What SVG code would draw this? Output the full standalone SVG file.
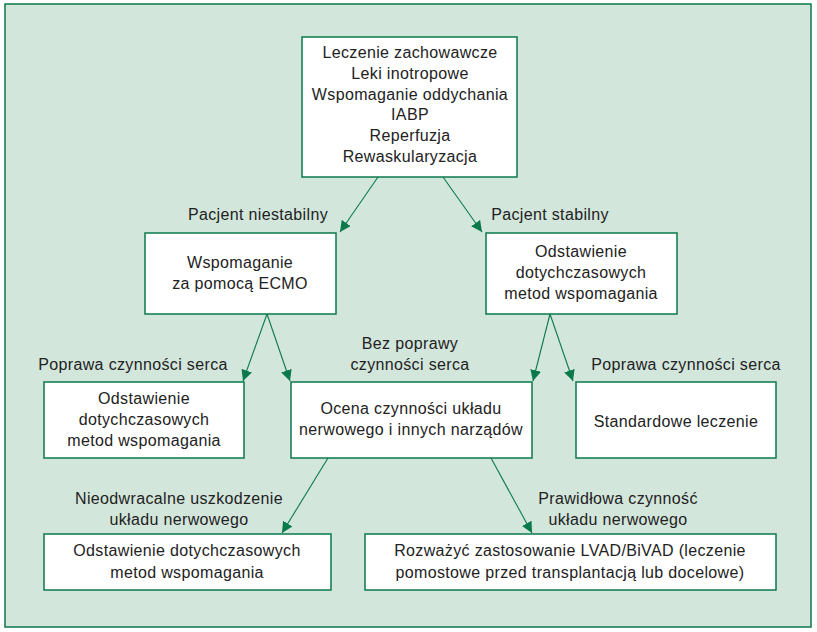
<svg xmlns="http://www.w3.org/2000/svg" width="817" height="632" viewBox="0 0 817 632">
<defs>
<marker id="ah" viewBox="0 0 10 10" refX="10" refY="5" markerWidth="11" markerHeight="11" markerUnits="userSpaceOnUse" orient="auto">
<path d="M0,0 L10,5 L0,10 Z" fill="#0b7a4b"/>
</marker>
</defs>
<style>
.frame{fill:#d3e6dc;stroke:#0b7a4b;stroke-width:1.5}
.box{fill:#ffffff;stroke:#0b7a4b;stroke-width:1.5}
text{font-family:"Liberation Sans",Arial,sans-serif;font-size:16px;letter-spacing:0.35px;fill:#222;text-anchor:middle}
.conn line{stroke:#0b7a4b;stroke-width:1.1;marker-end:url(#ah)}
</style>
<rect class="frame" x="5" y="4" width="806" height="623"/>
<g id="n-top">
<rect class="box" x="302" y="37" width="215" height="140"/>
<text x="410" y="58">Leczenie zachowawcze</text>
<text x="410" y="79">Leki inotropowe</text>
<text x="410" y="100">Wspomaganie oddychania</text>
<text x="410" y="120">IABP</text>
<text x="410" y="141">Reperfuzja</text>
<text x="410" y="162">Rewaskularyzacja</text>
</g>
<g id="n-ecmo">
<rect class="box" x="145" y="233" width="191" height="81"/>
<text x="240" y="268">Wspomaganie</text>
<text x="240" y="289">za pomocą ECMO</text>
</g>
<g id="n-odst1">
<rect class="box" x="486" y="233" width="191" height="81"/>
<text x="581" y="257">Odstawienie</text>
<text x="581" y="278">dotychczasowych</text>
<text x="581" y="299">metod wspomagania</text>
</g>
<g id="n-odst2">
<rect class="box" x="44" y="382" width="200" height="76"/>
<text x="144" y="404">Odstawienie</text>
<text x="144" y="425">dotychczasowych</text>
<text x="144" y="446">metod wspomagania</text>
</g>
<g id="n-ocena">
<rect class="box" x="291" y="382" width="241" height="76"/>
<text x="411" y="414">Ocena czynności układu</text>
<text x="411" y="435">nerwowego i innych narządów</text>
</g>
<g id="n-std">
<rect class="box" x="576" y="382" width="200" height="76"/>
<text x="676" y="427">Standardowe leczenie</text>
</g>
<g id="n-odst3">
<rect class="box" x="44" y="534" width="287" height="56"/>
<text x="187" y="556">Odstawienie dotychczasowych</text>
<text x="187" y="578">metod wspomagania</text>
</g>
<g id="n-lvad">
<rect class="box" x="365" y="534" width="411" height="56"/>
<text x="570" y="556">Rozważyć zastosowanie LVAD/BiVAD (leczenie</text>
<text x="570" y="578">pomostowe przed transplantacją lub docelowe)</text>
</g>
<g id="connectors" class="conn">
<line x1="378" y1="177" x2="340" y2="232"/>
<line x1="443" y1="177" x2="482" y2="232"/>
<line x1="267" y1="314" x2="243" y2="381"/>
<line x1="267" y1="314" x2="290" y2="381"/>
<line x1="550" y1="314" x2="533" y2="381"/>
<line x1="550" y1="314" x2="573" y2="381"/>
<line x1="328" y1="458" x2="282" y2="533"/>
<line x1="491" y1="458" x2="532" y2="533"/>
</g>
<g id="labels">
<text x="258" y="220">Pacjent niestabilny</text>
<text x="550" y="220">Pacjent stabilny</text>
<text x="133" y="370">Poprawa czynności serca</text>
<text x="410" y="349">Bez poprawy</text>
<text x="410" y="370">czynności serca</text>
<text x="686" y="370">Poprawa czynności serca</text>
<text x="179" y="504">Nieodwracalne uszkodzenie</text>
<text x="179" y="525">układu nerwowego</text>
<text x="618" y="504">Prawidłowa czynność</text>
<text x="618" y="525">układu nerwowego</text>
</g>
</svg>
